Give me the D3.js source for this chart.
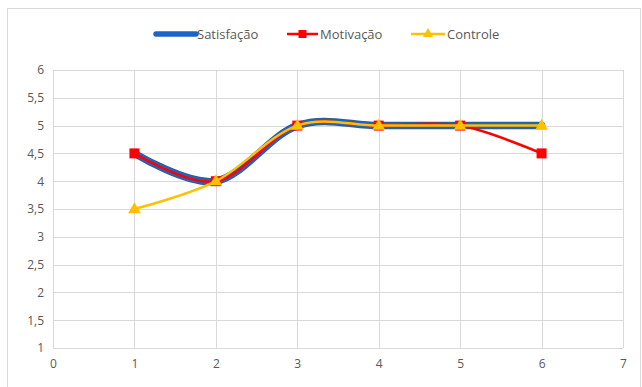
<!DOCTYPE html>
<html>
<head>
<meta charset="utf-8">
<script src="https://cdn.jsdelivr.net/npm/d3@7"></script>
<style>
  html, body { margin: 0; padding: 0; background: #fff; }
  svg { display: block; }
  text { font-family: "Open Sans", "Noto Sans", sans-serif; fill: #595959; }
</style>
</head>
<body>
<svg id="chart" width="642" height="387"></svg>
<script>
// Series data
const xValues = [1, 2, 3, 4, 5, 6];
const satisfacao = [4.5, 4, 5, 5, 5, 5];
const motivacao = [4.5, 4, 5, 5, 5, 4.5];
const controle = [3.5, 4, 5, 5, 5, 5];
const seriesNames = ["Satisfação", "Motivação", "Controle"];
const xTicks = [0, 1, 2, 3, 4, 5, 6, 7];
const yTicks = [1, 1.5, 2, 2.5, 3, 3.5, 4, 4.5, 5, 5.5, 6];

const svg = d3.select("#chart");
const W = 642, H = 387;
const m = { left: 53, right: 19, top: 70, bottom: 39 };

// Outer chart frame
svg.append("rect")
  .attr("x", 7.5).attr("y", 8.5).attr("width", 633).attr("height", 385)
  .attr("fill", "#fff").attr("stroke", "#d9d9d9");

const x = d3.scaleLinear().domain([0, 7]).range([m.left, W - m.right]);
const y = d3.scaleLinear().domain([1, 6]).range([H - m.bottom, m.top]);

const fmt = d => String(d).replace(".", ",");

// Gridlines
svg.append("g").selectAll("line").data(yTicks).join("line")
  .attr("x1", x(0)).attr("x2", x(7))
  .attr("y1", d => Math.round(y(d)) + 0.5).attr("y2", d => Math.round(y(d)) + 0.5)
  .attr("stroke", "#d9d9d9");
svg.append("g").selectAll("line").data(xTicks).join("line")
  .attr("y1", y(1)).attr("y2", y(6))
  .attr("x1", d => Math.round(x(d)) + 0.5).attr("x2", d => Math.round(x(d)) + 0.5)
  .attr("stroke", "#d9d9d9");

// Axes (labels only)
const yAxis = svg.append("g").attr("transform", `translate(${x(0)},0)`)
  .call(d3.axisLeft(y).tickValues(yTicks).tickFormat(fmt).tickSize(0).tickPadding(9));
const xAxis = svg.append("g").attr("transform", `translate(0,${y(1)})`)
  .call(d3.axisBottom(x).tickValues(xTicks).tickFormat(fmt).tickSize(0).tickPadding(11));
[yAxis, xAxis].forEach(a => {
  a.select(".domain").remove();
  a.selectAll("text").style("font-size", "12px").attr("fill", "#595959");
});

const curve = d3.curveCardinal.tension(0);
const line = vals => d3.line().curve(curve).x((d, i) => x(xValues[i])).y(d => y(d))(vals);

// Satisfação (thick blue)
svg.append("path").attr("d", line(satisfacao))
  .attr("fill", "none").attr("stroke", "#2F5F8F").attr("stroke-width", 7.5).attr("stroke-linecap", "round");
svg.append("path").attr("d", line(satisfacao))
  .attr("fill", "none").attr("stroke", "#1E64C8").attr("stroke-width", 5.5).attr("stroke-linecap", "round");

// Motivação (red)
svg.append("path").attr("d", line(motivacao))
  .attr("fill", "none").attr("stroke", "#FF0000").attr("stroke-width", 2.5);
svg.append("g").selectAll("rect").data(motivacao).join("rect")
  .attr("x", (d, i) => x(xValues[i]) - 5).attr("y", d => y(d) - 5)
  .attr("width", 10).attr("height", 10).attr("fill", "#FF0000");

// Controle (yellow)
svg.append("path").attr("d", line(controle))
  .attr("fill", "none").attr("stroke", "#FFC000").attr("stroke-width", 2.5);
const tri = d3.symbol().type(d3.symbolTriangle).size(70);
svg.append("g").selectAll("path").data(controle).join("path")
  .attr("d", tri)
  .attr("transform", (d, i) => `translate(${x(xValues[i])},${y(d) + 0.5})`)
  .attr("fill", "#FFC000");

// Legend
const legend = svg.append("g");
const items = [
  { name: seriesNames[0], x0: 156, x1: 196, tx: 197, color: "#1E64C8", w: 5.5, mark: null },
  { name: seriesNames[1], x0: 287, x1: 318, tx: 320, color: "#FF0000", w: 2.5, mark: "square" },
  { name: seriesNames[2], x0: 411, x1: 445, tx: 447, color: "#FFC000", w: 2.5, mark: "triangle" }
];
items.forEach(it => {
  legend.append("line").attr("x1", it.x0).attr("x2", it.x1).attr("y1", 34).attr("y2", 34)
    .attr("stroke", it.color).attr("stroke-width", it.w).attr("stroke-linecap", it.mark ? "butt" : "round");
  const cx = (it.x0 + it.x1) / 2;
  if (it.mark === "square") {
    legend.append("rect").attr("x", cx - 4).attr("y", 30).attr("width", 8).attr("height", 8).attr("fill", it.color);
  } else if (it.mark === "triangle") {
    legend.append("path").attr("d", d3.symbol().type(d3.symbolTriangle).size(45))
      .attr("transform", `translate(${cx},34)`).attr("fill", it.color);
  }
  legend.append("text").attr("x", it.tx).attr("y", 38.5).text(it.name).style("font-size", "13px");
});
</script>
</body>
</html>
